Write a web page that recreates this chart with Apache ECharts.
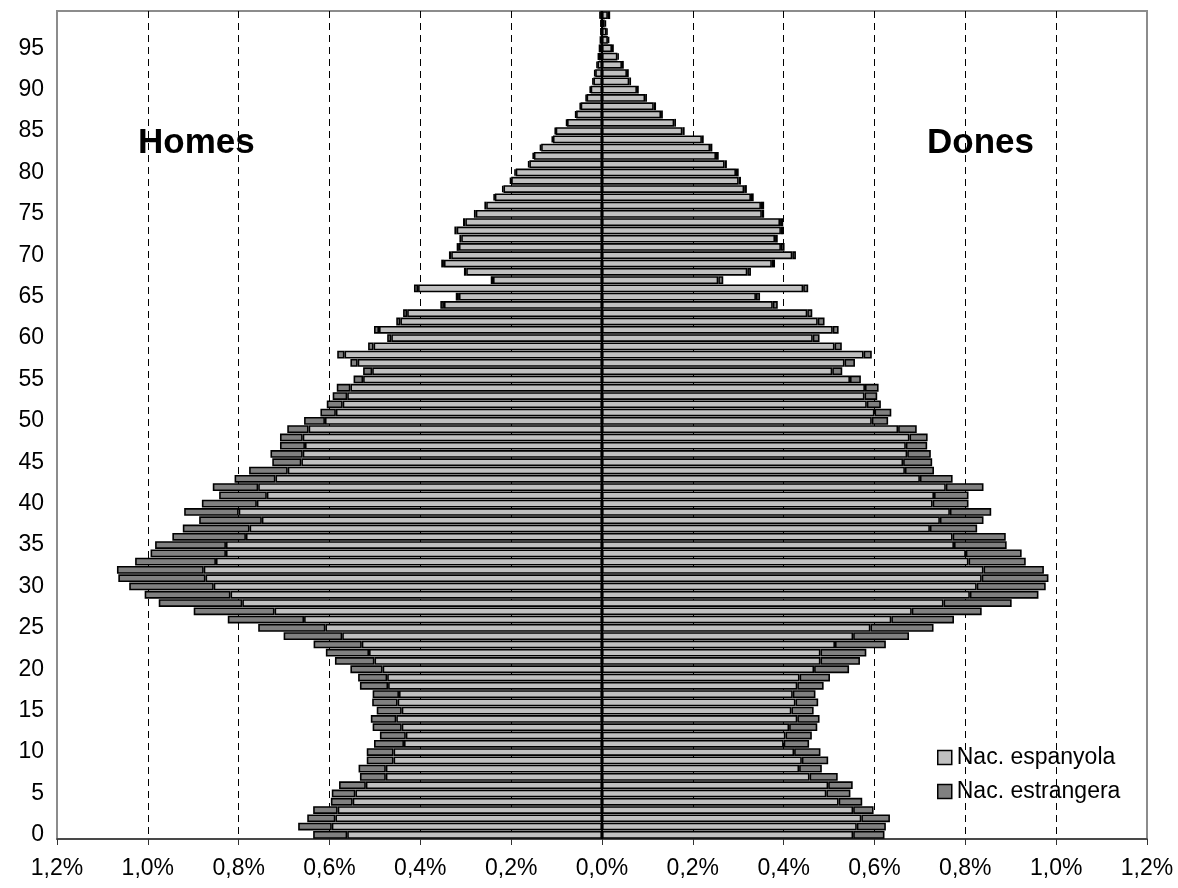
<!DOCTYPE html>
<html>
<head>
<meta charset="utf-8">
<title>Piràmide de població</title>
<script src="https://cdn.jsdelivr.net/npm/echarts@6/dist/echarts.min.js"></script>
<style>
  html, body { margin: 0; padding: 0; background: #fff; }
  #chart { width: 1178px; height: 888px; }
</style>
</head>
<body>
<div id="chart"></div>
<script>
// Ages 0..99, one bar per single year of age
const ages = Array.from({ length: 100 }, (_, i) => String(i));

// Share of total population (%), men
const homesEspanyola = [
  0.561, 0.595, 0.587, 0.582, 0.549, 0.543, 0.520, 0.476, 0.476, 0.459,
  0.459, 0.436, 0.432, 0.441, 0.453, 0.441, 0.450, 0.447, 0.471, 0.473,
  0.483, 0.501, 0.513, 0.529, 0.572, 0.609, 0.656, 0.721, 0.792, 0.818,
  0.855, 0.873, 0.877, 0.850, 0.828, 0.828, 0.784, 0.776, 0.749, 0.800,
  0.760, 0.738, 0.757, 0.719, 0.692, 0.662, 0.659, 0.654, 0.659, 0.646,
  0.610, 0.586, 0.571, 0.561, 0.554, 0.526, 0.506, 0.538, 0.567, 0.503,
  0.464, 0.491, 0.444, 0.429, 0.348, 0.315, 0.405, 0.240, 0.299, 0.348,
  0.332, 0.315, 0.310, 0.320, 0.301, 0.278, 0.255, 0.236, 0.217, 0.200,
  0.190, 0.160, 0.150, 0.134, 0.108, 0.102, 0.077, 0.057, 0.047, 0.034,
  0.025, 0.019, 0.015, 0.010, 0.007, 0.005, 0.003, 0.002, 0.002, 0.004
];
const homesEstrangera = [
  0.075, 0.074, 0.062, 0.054, 0.048, 0.052, 0.059, 0.057, 0.060, 0.059,
  0.059, 0.066, 0.057, 0.064, 0.056, 0.055, 0.056, 0.058, 0.062, 0.064,
  0.071, 0.087, 0.095, 0.106, 0.129, 0.148, 0.168, 0.178, 0.184, 0.189,
  0.186, 0.192, 0.191, 0.178, 0.166, 0.156, 0.162, 0.147, 0.138, 0.120,
  0.121, 0.105, 0.100, 0.090, 0.085, 0.064, 0.071, 0.055, 0.050, 0.047,
  0.046, 0.034, 0.035, 0.032, 0.030, 0.021, 0.020, 0.016, 0.016, 0.012,
  0.009, 0.011, 0.009, 0.009, 0.008, 0.007, 0.009, 0.005, 0.005, 0.006,
  0.005, 0.005, 0.004, 0.005, 0.005, 0.004, 0.004, 0.003, 0.003, 0.003,
  0.003, 0.003, 0.003, 0.003, 0.003, 0.002, 0.002, 0.002, 0.002, 0.002,
  0.002, 0.002, 0.002, 0.002, 0.002, 0.001, 0.001, 0.001, 0.001, 0.001
];

// Share of total population (%), women
const donesEspanyola = [
  0.553, 0.561, 0.571, 0.553, 0.521, 0.494, 0.498, 0.457, 0.434, 0.440,
  0.423, 0.400, 0.404, 0.412, 0.430, 0.417, 0.426, 0.420, 0.430, 0.435,
  0.467, 0.481, 0.481, 0.513, 0.553, 0.591, 0.637, 0.682, 0.752, 0.810,
  0.825, 0.836, 0.840, 0.807, 0.801, 0.775, 0.772, 0.722, 0.744, 0.766,
  0.728, 0.731, 0.757, 0.700, 0.667, 0.663, 0.672, 0.669, 0.677, 0.652,
  0.594, 0.600, 0.583, 0.578, 0.579, 0.546, 0.507, 0.534, 0.576, 0.512,
  0.464, 0.508, 0.475, 0.452, 0.376, 0.339, 0.443, 0.256, 0.320, 0.374,
  0.419, 0.394, 0.381, 0.394, 0.392, 0.352, 0.350, 0.328, 0.313, 0.301,
  0.295, 0.270, 0.251, 0.238, 0.220, 0.177, 0.159, 0.130, 0.114, 0.095,
  0.077, 0.060, 0.055, 0.044, 0.034, 0.022, 0.013, 0.010, 0.006, 0.013
];
const donesEstrangera = [
  0.069, 0.064, 0.063, 0.045, 0.052, 0.053, 0.054, 0.062, 0.050, 0.058,
  0.058, 0.056, 0.058, 0.062, 0.049, 0.049, 0.050, 0.050, 0.058, 0.067,
  0.077, 0.087, 0.101, 0.112, 0.123, 0.139, 0.138, 0.154, 0.150, 0.151,
  0.152, 0.147, 0.133, 0.126, 0.123, 0.116, 0.117, 0.104, 0.096, 0.091,
  0.079, 0.076, 0.083, 0.072, 0.064, 0.064, 0.052, 0.047, 0.040, 0.041,
  0.036, 0.037, 0.031, 0.028, 0.030, 0.024, 0.022, 0.023, 0.018, 0.016,
  0.015, 0.013, 0.015, 0.011, 0.011, 0.009, 0.011, 0.011, 0.008, 0.007,
  0.008, 0.008, 0.006, 0.006, 0.007, 0.005, 0.007, 0.006, 0.006, 0.005,
  0.006, 0.005, 0.006, 0.005, 0.004, 0.005, 0.004, 0.004, 0.005, 0.004,
  0.004, 0.004, 0.004, 0.004, 0.003, 0.004, 0.003, 0.002, 0.003, 0.005
];

const seriesNames = ['Nac. espanyola', 'Nac. estrangera'];
const sideLabels = ['Homes', 'Dones'];

const FONT = "'Liberation Sans', Arial, sans-serif";
const LIGHT = '#c0c0c0';
const DARK = '#808080';

// Dashed vertical grid at every 0.2 step; the outer edges and the centre are left blank
const gridColors = ['rgba(0,0,0,0)', '#000', '#000', '#000', '#000', '#000',
  'rgba(0,0,0,0)', '#000', '#000', '#000', '#000', '#000', 'rgba(0,0,0,0)'];

function barSeries(name, values, sign, color) {
  return {
    name: name,
    type: 'bar',
    stack: 'pop',
    barCategoryGap: '6%',
    data: values.map(v => sign * v),
    itemStyle: { color: color, borderColor: '#000', borderWidth: 1.6 },
    emphasis: { disabled: true },
    animation: false
  };
}

const chart = echarts.init(document.getElementById('chart'), null, { renderer: 'canvas' });

const centreLine = {
  silent: true,
  symbol: 'none',
  label: { show: false },
  lineStyle: { color: '#000', width: 2, type: 'solid' },
  data: [{ xAxis: 0 }]
};

const s0 = barSeries(seriesNames[0], homesEspanyola, -1, LIGHT);
s0.markLine = centreLine;

chart.setOption({
  animation: false,
  backgroundColor: '#fff',
  textStyle: { fontFamily: FONT },
  grid: {
    left: 57, right: 31, top: 11, bottom: 49,
    show: true, borderColor: '#8c8c8c', borderWidth: 2, backgroundColor: 'rgba(0,0,0,0)'
  },
  legend: {
    orient: 'vertical',
    left: 932, top: 741,
    itemWidth: 14, itemHeight: 14, itemGap: 11,
    icon: 'rect',
    itemStyle: { borderColor: '#000', borderWidth: 1.5 },
    textStyle: { fontFamily: FONT, fontSize: 23, color: '#000' },
    data: seriesNames
  },
  xAxis: {
    type: 'value',
    min: -1.2, max: 1.2, interval: 0.2,
    axisLine: { show: true, lineStyle: { color: '#333', width: 1.5 } },
    axisTick: { show: true, length: 6, lineStyle: { color: '#333' } },
    axisLabel: {
      fontFamily: FONT, fontSize: 23, color: '#000', margin: 18,
      formatter: v => Math.abs(v).toFixed(1).replace('.', ',') + '%'
    },
    splitLine: { show: true, lineStyle: { color: gridColors, type: [7, 5], width: 1 } }
  },
  yAxis: {
    type: 'category',
    data: ages,
    axisLine: { show: false },
    axisTick: { show: false },
    axisLabel: { interval: 4, fontFamily: FONT, fontSize: 23, color: '#000', margin: 13 },
    splitLine: { show: false }
  },
  graphic: [
    { type: 'text', left: 138, top: 126, style: { text: sideLabels[0], font: 'bold 35px ' + FONT, fill: '#000' } },
    { type: 'text', left: 927, top: 126, style: { text: sideLabels[1], font: 'bold 35px ' + FONT, fill: '#000' } }
  ],
  series: [
    s0,
    barSeries(seriesNames[0], donesEspanyola, 1, LIGHT),
    barSeries(seriesNames[1], homesEstrangera, -1, DARK),
    barSeries(seriesNames[1], donesEstrangera, 1, DARK)
  ]
});
</script>
</body>
</html>
